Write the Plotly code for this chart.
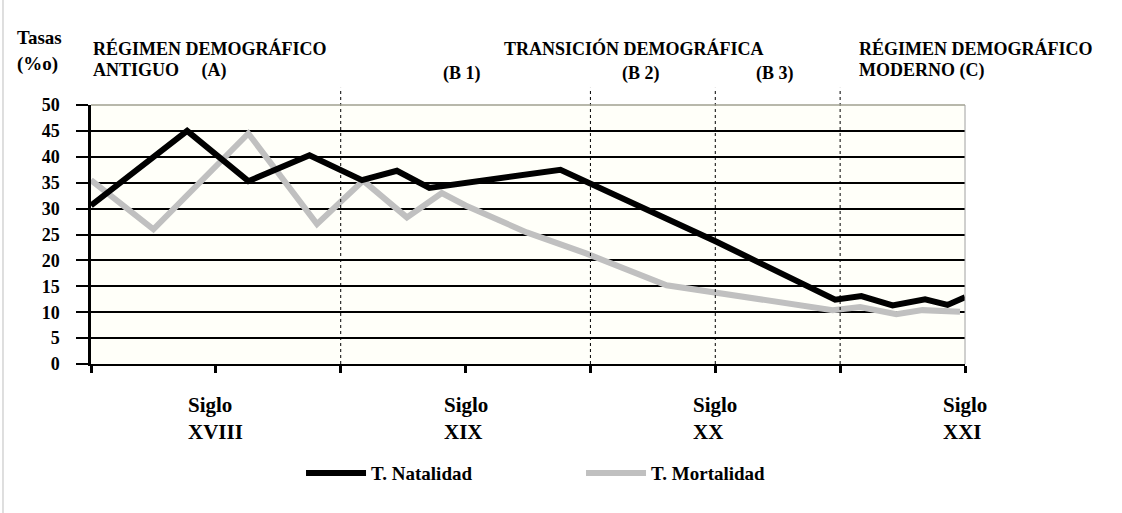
import plotly.graph_objects as go

# ---- data (x in half-century units: 1 = Siglo XVIII mark, 3 = XIX, 5 = XX, 7 = XXI) ----
nat_x = [0, 0.77, 1.26, 1.75, 2.17, 2.45, 2.71, 3.76, 5.01, 5.96, 6.17, 6.42, 6.68, 6.86, 7.0]
nat_y = [30.6, 45.0, 35.3, 40.3, 35.5, 37.3, 34.0, 37.5, 23.6, 12.4, 13.1, 11.3, 12.5, 11.4, 12.9]

mort_x = [0, 0.5, 1.26, 1.81, 2.18, 2.53, 2.81, 3.0, 3.49, 3.97, 4.61, 4.88, 5.01, 5.52, 5.94, 6.16, 6.45, 6.66, 6.96]
mort_y = [35.5, 26.0, 44.5, 27.0, 35.4, 28.3, 33.0, 30.6, 25.4, 21.3, 15.2, 14.2, 13.9, 12.0, 10.4, 11.0, 9.6, 10.4, 10.1]

siglo_pos = [1, 3, 5, 7]
siglo_lab = ["XVIII", "XIX", "XX", "XXI"]
tick_pos = [0, 1, 2, 3, 4, 5, 6, 7]
y_ticks = [0, 5, 10, 15, 20, 25, 30, 35, 40, 45, 50]
fase_pos = [2, 4, 5, 6]          # dotted phase boundaries

serie_nat = "T. Natalidad"
serie_mort = "T. Mortalidad"

FONT = "Liberation Serif, Times New Roman, serif"

fig = go.Figure()
fig.add_trace(go.Scatter(x=mort_x, y=mort_y, mode="lines", name=serie_mort,
                         line=dict(color="#c0c0c0", width=6)))
fig.add_trace(go.Scatter(x=nat_x, y=nat_y, mode="lines", name=serie_nat,
                         line=dict(color="#000000", width=6)))

shapes = []
for p in fase_pos:
    shapes.append(dict(type="line", xref="x", yref="paper", x0=p, x1=p, y0=0, y1=1.066,
                       line=dict(color="#000000", width=1, dash="dot"), layer="above"))
# top & right border of plot area
shapes.append(dict(type="line", xref="paper", yref="paper", x0=0, x1=1, y0=1, y1=1,
                   line=dict(color="#a0a090", width=1.5), layer="above"))
shapes.append(dict(type="line", xref="paper", yref="paper", x0=1, x1=1, y0=0, y1=1,
                   line=dict(color="#a0a0a0", width=1), layer="above"))
# faint frame line at left edge of picture
shapes.append(dict(type="line", xref="paper", yref="paper", x0=-0.1007, x1=-0.1007, y0=-0.575, y1=1.405,
                   line=dict(color="#d4d4d4", width=1.5)))

ann = []
def txt(x, y, s, xanchor="left", size=18):
    ann.append(dict(xref="paper", yref="paper", x=x, y=y, text="<b>" + s + "</b>",
                    showarrow=False, xanchor=xanchor, yanchor="middle", align="left",
                    font=dict(family=FONT, size=size, color="#000000")))

txt(-0.0870, 1.262, "Tasas", size=19)
txt(-0.0870, 1.160, "(%o)", size=19)
txt(0.0, 1.220, "RÉGIMEN DEMOGRÁFICO")
txt(0.0, 1.135, "ANTIGUO" + "\u00a0" * 4 + " (A)")
txt(0.4703, 1.220, "TRANSICIÓN DEMOGRÁFICA")
txt(0.4245, 1.120, "(B 1)", xanchor="center")
txt(0.629, 1.120, "(B 2)", xanchor="center")
txt(0.7826, 1.120, "(B 3)", xanchor="center")
txt(0.8764, 1.220, "RÉGIMEN DEMOGRÁFICO")
txt(0.8764, 1.135, "MODERNO (C)")

for p, lab in zip(siglo_pos, siglo_lab):
    ann.append(dict(xref="x", yref="paper", x=p, y=0, yshift=-27, text="<b>Siglo<br>" + lab + "</b>",
                    showarrow=False, xanchor="center", yanchor="top", align="left",
                    font=dict(family=FONT, size=21, color="#000000")))

fig.update_layout(
    width=1122, height=513,
    margin=dict(l=91, r=157, t=105, b=149),
    paper_bgcolor="#ffffff", plot_bgcolor="#fffff9",
    font=dict(family=FONT, color="#000000"),
    showlegend=True,
    legend=dict(orientation="h", x=0.2403, xanchor="left", y=-0.421, yanchor="middle",
                traceorder="reversed", itemwidth=60, entrywidth=205,
                font=dict(family=FONT, size=19, color="#000000", weight="bold"),
                bgcolor="rgba(0,0,0,0)"),
    shapes=shapes, annotations=ann,
    xaxis=dict(range=[0, 7], tickvals=tick_pos, ticktext=[""] * len(tick_pos),
               showgrid=False, zeroline=False, showline=True, linecolor="#000000", linewidth=2,
               ticks="outside", ticklen=7, tickwidth=2.5, tickcolor="#000000"),
    yaxis=dict(range=[0, 50], tickvals=y_ticks, showgrid=True, gridcolor="#000000", gridwidth=1.5,
               zeroline=False, showline=True, linecolor="#000000", linewidth=2.5,
               ticks="outside", ticklen=12, tickwidth=1.5, tickcolor="#000000",
               ticklabelstandoff=13,
               tickfont=dict(family=FONT, size=18, color="#000000", weight="bold")),
)

fig.write_html("out.html", config={"displayModeBar": False},
               post_script="document.body.style.margin='0';")
